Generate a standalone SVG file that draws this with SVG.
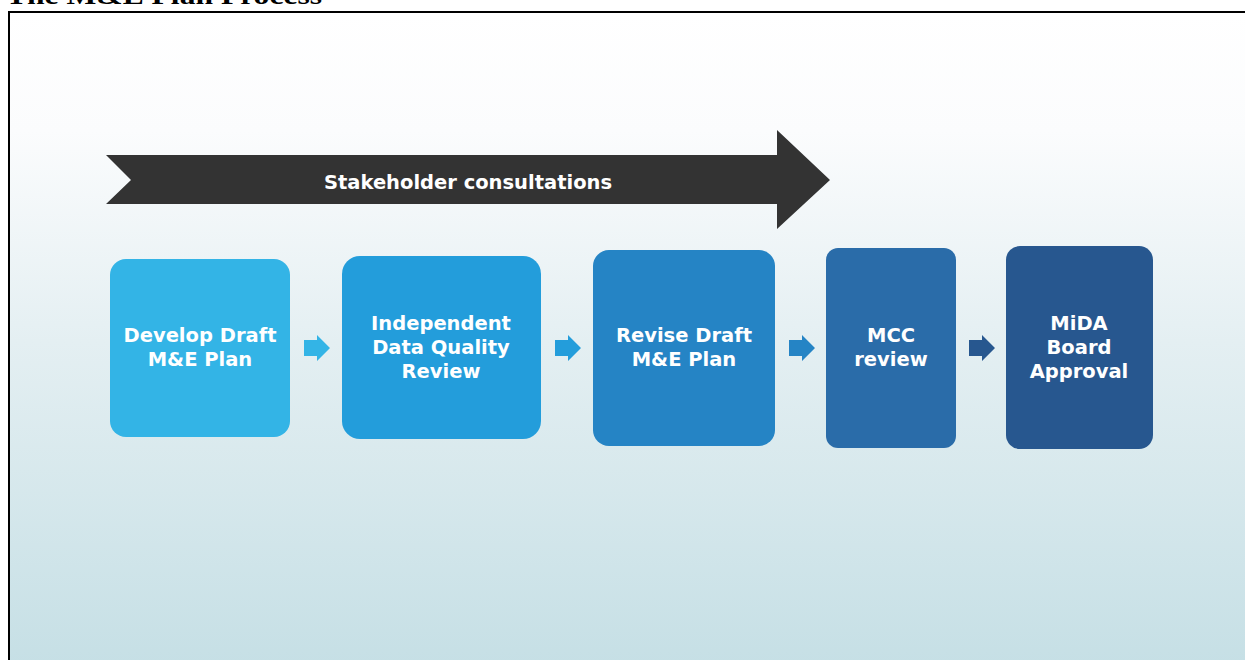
<svg xmlns="http://www.w3.org/2000/svg" width="1245" height="660" viewBox="0 0 1245 660">
  <defs>
    <linearGradient id="bg" x1="0" y1="0" x2="0" y2="1">
      <stop offset="0" stop-color="#ffffff"/>
      <stop offset="0.18" stop-color="#fbfcfd"/>
      <stop offset="0.5" stop-color="#e4eff2"/>
      <stop offset="1" stop-color="#c5dfe5"/>
    </linearGradient>
    <style>
      .title { font-family: "Liberation Serif", serif; font-weight: bold; font-size: 26px; fill: #000; }
      .lbl { font-family: "DejaVu Sans", "Liberation Sans", sans-serif; font-weight: bold; font-size: 19.5px; fill: #ffffff; text-anchor: middle; }
      .banner { font-family: "DejaVu Sans", "Liberation Sans", sans-serif; font-weight: bold; font-size: 19.5px; fill: #ffffff; text-anchor: middle; }
    </style>
  </defs>

  <rect x="0" y="0" width="1245" height="660" fill="#ffffff"/>
  <text class="title" x="6" y="4" textLength="316" lengthAdjust="spacingAndGlyphs">The M&amp;E Plan Process</text>

  <rect id="frame" x="9" y="12" width="1250" height="660" fill="url(#bg)" stroke="#000000" stroke-width="2"/>

  <g id="stakeholder-consultations">
    <polygon points="106,155 777,155 777,130 830,180 777,229 777,204 106,204 131,180" fill="#333333"/>
    <text class="banner" x="468" y="189">Stakeholder consultations</text>
  </g>

  <g id="node-develop">
    <rect x="110" y="259" width="180" height="178" rx="16" fill="#33b4e6"/>
    <text class="lbl" x="200" y="342">Develop Draft</text>
    <text class="lbl" x="200" y="366">M&amp;E Plan</text>
  </g>

  <g id="node-independent">
    <rect x="342" y="256" width="199" height="183" rx="18" fill="#239ddb"/>
    <text class="lbl" x="441" y="330">Independent</text>
    <text class="lbl" x="441" y="354">Data Quality</text>
    <text class="lbl" x="441" y="378">Review</text>
  </g>

  <g id="node-revise">
    <rect x="593" y="250" width="182" height="196" rx="16" fill="#2584c5"/>
    <text class="lbl" x="684" y="342">Revise Draft</text>
    <text class="lbl" x="684" y="366">M&amp;E Plan</text>
  </g>

  <g id="node-mcc">
    <rect x="826" y="248" width="130" height="200" rx="12" fill="#2a6ca9"/>
    <text class="lbl" x="891" y="342">MCC</text>
    <text class="lbl" x="891" y="366">review</text>
  </g>

  <g id="node-mida">
    <rect x="1006" y="246" width="147" height="203" rx="14" fill="#27578f"/>
    <text class="lbl" x="1079" y="330">MiDA</text>
    <text class="lbl" x="1079" y="354">Board</text>
    <text class="lbl" x="1079" y="378">Approval</text>
  </g>

  <g id="connectors">
    <polygon points="304,340 317,340 317,335 330,348 317,361 317,356 304,356" fill="#33b4e6"/>
    <polygon points="555,340 568,340 568,335 581,348 568,361 568,356 555,356" fill="#239ddb"/>
    <polygon points="789,340 802,340 802,335 815,348 802,361 802,356 789,356" fill="#2584c5"/>
    <polygon points="969,340 982,340 982,335 995,348 982,361 982,356 969,356" fill="#27578f"/>
  </g>
</svg>
